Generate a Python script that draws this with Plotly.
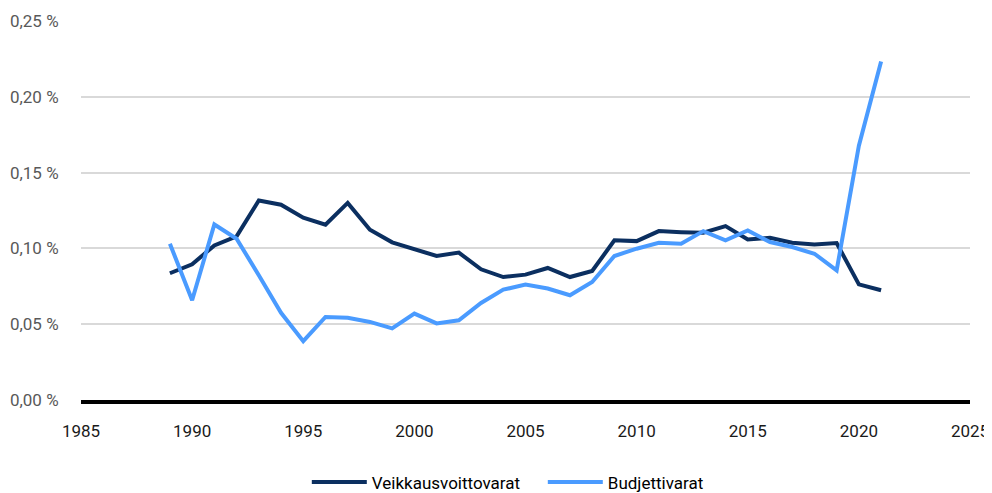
import plotly.graph_objects as go

years = list(range(1989, 2022))
veikkaus = [0.0836, 0.0895, 0.102, 0.108, 0.1316, 0.1288, 0.1202, 0.1156, 0.130, 0.1123,
            0.104, 0.0995, 0.095, 0.0972, 0.0862, 0.0811, 0.0827, 0.0871, 0.0811, 0.0851,
            0.1053, 0.1048, 0.1114, 0.1107, 0.1103, 0.1147, 0.1059, 0.107, 0.1037, 0.1026,
            0.1035, 0.0763, 0.0724]
budjetti = [0.1031, 0.0658, 0.1158, 0.1064, 0.0823, 0.0575, 0.0388, 0.0548, 0.0542, 0.0515,
            0.0472, 0.0570, 0.0505, 0.0526, 0.064, 0.0728, 0.0761, 0.0735, 0.0691, 0.0778,
            0.095, 0.0998, 0.1037, 0.1031, 0.1114, 0.1053, 0.1118, 0.1042, 0.1009, 0.0965,
            0.0855, 0.1678, 0.2233]
y_tickvals = [0, 0.05, 0.10, 0.15, 0.20, 0.25]
y_ticktext = ["0,00 %", "0,05 %", "0,10 %", "0,15 %", "0,20 %", "0,25 %"]
x_tickvals = [1985, 1990, 1995, 2000, 2005, 2010, 2015, 2020, 2025]

FONT = "Roboto, Liberation Sans, sans-serif"

fig = go.Figure()
fig.add_trace(go.Scatter(x=years, y=veikkaus, mode="lines", name="Veikkausvoittovarat",
                         line=dict(color="#0B2F60", width=4)))
fig.add_trace(go.Scatter(x=years, y=budjetti, mode="lines", name="Budjettivarat",
                         line=dict(color="#4A9BFF", width=4)))

# page body has an 8px default margin, so the figure is sized 8px smaller
fig.update_layout(
    width=984, height=485,
    margin=dict(l=73, r=22, t=13, b=93),
    paper_bgcolor="white", plot_bgcolor="white",
    font=dict(family=FONT, size=17, color="#595959"),
    showlegend=True,
    legend=dict(orientation="h", x=0.254, xanchor="left",
                yref="container", y=0.022, yanchor="middle",
                font=dict(size=17, color="#000000"), itemwidth=55,
                entrywidthmode="pixels", entrywidth=166),
    xaxis=dict(range=[1985, 2025], tickvals=x_tickvals, showgrid=False, automargin=False,
               showline=True, linecolor="#000000", linewidth=4,
               ticks="outside", ticklen=13, tickcolor="rgba(0,0,0,0)",
               tickfont=dict(color="#1a1a1a", size=17), zeroline=False),
    yaxis=dict(range=[0, 0.25], tickvals=y_tickvals, ticktext=y_ticktext, automargin=False,
               showgrid=True, gridcolor="#D9D9D9", gridwidth=1.5, zeroline=False,
               ticks="outside", ticklen=18, tickcolor="rgba(0,0,0,0)"),
)

fig.write_html("out.html")
